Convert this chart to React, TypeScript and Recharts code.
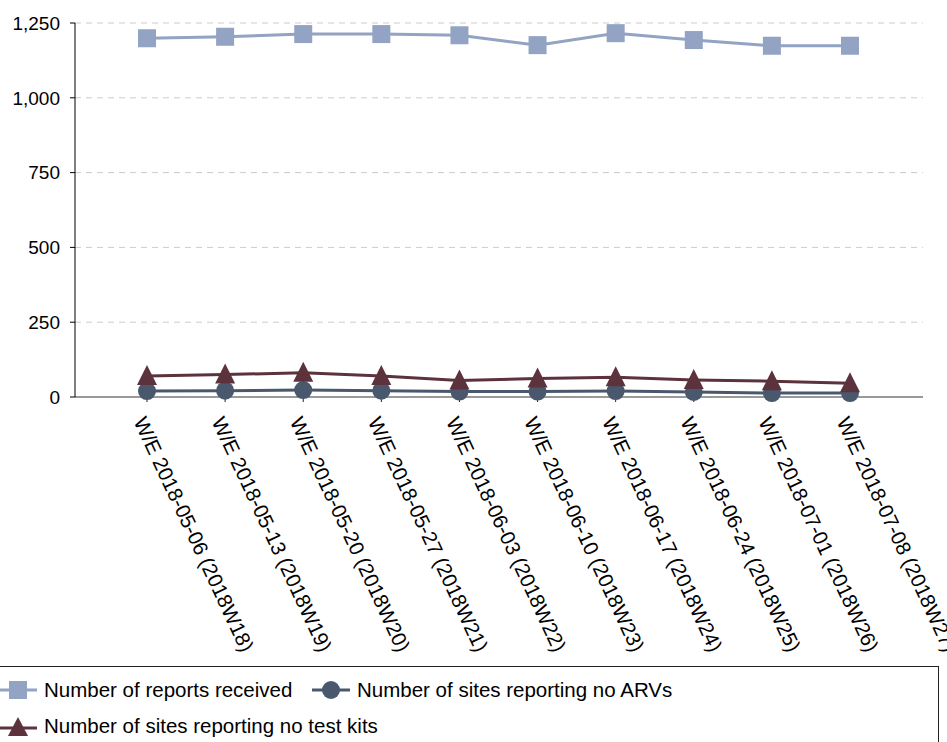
import React from "react";
import { CartesianGrid, Line, LineChart, ReferenceLine, XAxis, YAxis } from "recharts";

const weeks = [
  "W/E 2018-05-06 (2018W18)",
  "W/E 2018-05-13 (2018W19)",
  "W/E 2018-05-20 (2018W20)",
  "W/E 2018-05-27 (2018W21)",
  "W/E 2018-06-03 (2018W22)",
  "W/E 2018-06-10 (2018W23)",
  "W/E 2018-06-17 (2018W24)",
  "W/E 2018-06-24 (2018W25)",
  "W/E 2018-07-01 (2018W26)",
  "W/E 2018-07-08 (2018W27)"
];
const reportsReceived = [1199, 1204, 1213, 1213, 1209, 1176, 1216, 1193, 1174, 1174];
const noArvs = [20, 21, 23, 21, 18, 18, 20, 17, 13, 13];
const noTestKits = [70, 75, 81, 70, 55, 62, 66, 57, 53, 46];
const yTicks = [0, 250, 500, 750, 1000, 1250];

const C_REPORTS = "#93a3c3";
const C_ARVS = "#4a586e";
const C_KITS = "#5c323c";
const FONT = "'Liberation Sans', Arial, sans-serif";

const data = weeks.map((week, i) => ({
  week,
  reports: reportsReceived[i],
  arvs: noArvs[i],
  kits: noTestKits[i]
}));

const squareDot = (p: any) => (
  <rect key={`s${p.index}`} x={p.cx - 9} y={p.cy - 9} width={18} height={18} fill={C_REPORTS} />
);
const circleDot = (p: any) => <circle key={`c${p.index}`} cx={p.cx} cy={p.cy} r={9} fill={C_ARVS} />;
const triangleDot = (p: any) => (
  <polygon
    key={`t${p.index}`}
    points={`${p.cx},${p.cy - 11} ${p.cx - 10},${p.cy + 9} ${p.cx + 10},${p.cy + 9}`}
    fill={C_KITS}
  />
);

const XTick = ({ x, y, payload }: any) => (
  <text
    transform={`translate(${x - 7}, ${y + 14}) rotate(65)`}
    textAnchor="start"
    dominantBaseline="central"
    fontFamily={FONT}
    fontSize={20.5}
    fill="#000"
  >
    {payload.value}
  </text>
);

const LegendIcon = ({ kind }: { kind: string }) => (
  <svg width={38} height={22} style={{ display: "block" }}>
    {kind === "square" && (
      <>
        <line x1={0} y1={11} x2={38} y2={11} stroke={C_REPORTS} strokeWidth={3} />
        <rect x={10} y={2} width={18} height={18} fill={C_REPORTS} />
      </>
    )}
    {kind === "circle" && (
      <>
        <line x1={0} y1={11} x2={38} y2={11} stroke={C_ARVS} strokeWidth={3} />
        <circle cx={19} cy={11} r={9} fill={C_ARVS} />
      </>
    )}
    {kind === "triangle" && (
      <>
        <line x1={0} y1={13} x2={38} y2={13} stroke={C_KITS} strokeWidth={3} />
        <polygon points="19,2 9,21 29,21" fill={C_KITS} />
      </>
    )}
  </svg>
);

const LegendItem = ({ kind, label, left, top }: any) => (
  <div style={{ position: "absolute", left, top, display: "flex", alignItems: "center", gap: 7 }}>
    <LegendIcon kind={kind} />
    <span style={{ fontFamily: FONT, fontSize: 20.5, color: "#000", whiteSpace: "nowrap" }}>{label}</span>
  </div>
);

export default function App() {
  return (
    <div style={{ position: "absolute", left: 0, top: 0, width: 947, height: 742, overflow: "hidden", background: "#fff" }}>
      <LineChart width={947} height={662} data={data} margin={{ top: 23, right: 24, bottom: 0, left: 0 }}>
        <CartesianGrid vertical={false} stroke="#cccccc" strokeDasharray="6 5" />
        <XAxis
          dataKey="week"
          interval={0}
          padding={{ left: 72, right: 73 }}
          height={265}
          tick={<XTick />}
          tickSize={5}
          axisLine={{ stroke: "#999999", strokeWidth: 2 }}
          tickLine={{ stroke: "#222222" }}
        />
        <YAxis
          domain={[0, 1250]}
          ticks={yTicks}
          width={75}
          tickSize={5}
          tickMargin={10}
          tickFormatter={(v) => Number(v).toLocaleString("en-US")}
          tick={{ fontFamily: FONT, fontSize: 19, fill: "#000" }}
          axisLine={{ stroke: "#000" }}
          tickLine={{ stroke: "#000" }}
        />
        <ReferenceLine y={0} stroke="#000" strokeDasharray="6 5" />
        <Line dataKey="reports" stroke={C_REPORTS} strokeWidth={3} dot={squareDot} isAnimationActive={false} />
        <Line dataKey="arvs" stroke={C_ARVS} strokeWidth={3} dot={circleDot} isAnimationActive={false} />
        <Line dataKey="kits" stroke={C_KITS} strokeWidth={3} dot={triangleDot} isAnimationActive={false} />
      </LineChart>
      <div
        style={{
          position: "absolute",
          left: -2,
          top: 666,
          width: 941,
          height: 100,
          border: "1px solid #222",
          boxSizing: "border-box"
        }}
      >
        <LegendItem kind="square" label="Number of reports received" left={0} top={11} />
        <LegendItem kind="circle" label="Number of sites reporting no ARVs" left={313} top={11} />
        <LegendItem kind="triangle" label="Number of sites reporting no test kits" left={0} top={47} />
      </div>
    </div>
  );
}
